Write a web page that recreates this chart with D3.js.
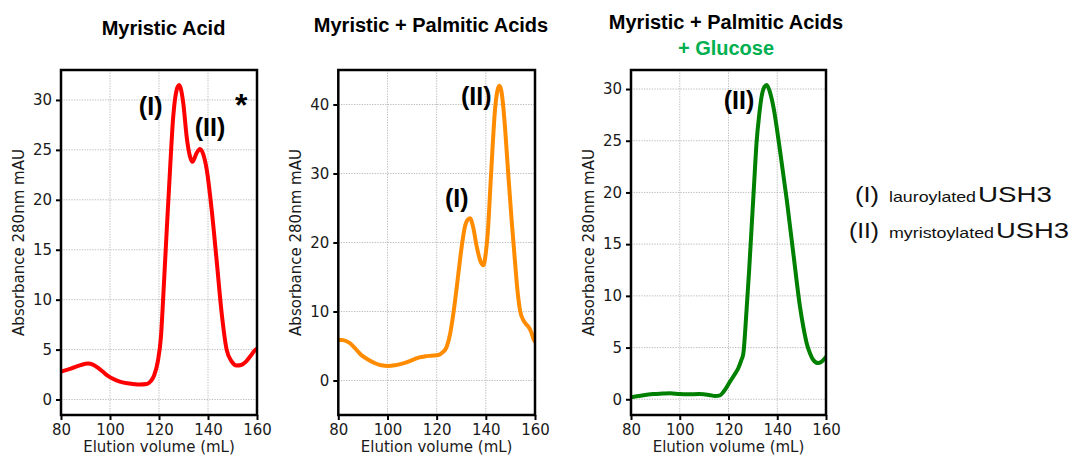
<!DOCTYPE html>
<html>
<head>
<meta charset="utf-8">
<script src="https://cdn.jsdelivr.net/npm/d3@7"></script>
<style>
  html, body { margin: 0; padding: 0; background: #fff; }
  svg { display: block; }
</style>
</head>
<body>
<svg id="chart" width="1073" height="457"></svg>
<script>
// Size-exclusion traces (A280, mAU) against elution volume (mL)
const xTicks = [80, 100, 120, 140, 160];

const myristicVolume = [80, 84, 88, 91, 93, 95, 97, 99, 101, 104, 108, 112, 115, 116.5, 118, 119.5, 120.8, 121.8, 123.1, 124.5, 125.8, 127.2, 128.2, 129.9, 131.3, 132.7, 133.6, 135.4, 136.7, 138, 139.5, 141.5, 143.5, 145.6, 147.6, 149.7, 151.7, 153.5, 155.5, 157.5, 159, 160];
const myristicAbs = [2.8, 3.1, 3.45, 3.6, 3.5, 3.2, 2.8, 2.4, 2.1, 1.8, 1.6, 1.5, 1.55, 1.8, 2.4, 3.8, 6.3, 10.6, 16.7, 23, 28.3, 31, 31.5, 29.7, 26.3, 24.3, 23.8, 24.7, 25.1, 24.6, 23, 19, 14, 8.6, 5.0, 3.8, 3.4, 3.45, 3.8, 4.4, 4.9, 5.1];
const myristicYTicks = [0, 5, 10, 15, 20, 25, 30];

const mixVolume = [80, 82, 84.8, 87, 89, 92.2, 95, 97.5, 100.3, 103, 106, 108.5, 111, 113, 115.3, 118, 120.7, 122.5, 124.1, 125.5, 126.8, 128.2, 129.5, 130.5, 131.5, 132.6, 133.6, 134.8, 136.3, 137.7, 139, 140, 141, 141.7, 142.7, 143.7, 144.6, 145.5, 146.3, 147, 147.8, 149.1, 150.5, 151.8, 153, 154, 155.2, 156.3, 157.3, 158.5, 159.3, 160];
const mixAbs = [5.9, 5.85, 5.4, 4.6, 3.8, 3.0, 2.5, 2.2, 2.1, 2.2, 2.45, 2.75, 3.1, 3.35, 3.5, 3.6, 3.7, 4.1, 4.9, 6.8, 9.7, 13.6, 17.5, 20.2, 22.3, 23.3, 23.5, 22.3, 19.4, 17.4, 16.7, 18.5, 22.5, 27.1, 33.5, 39.1, 41.8, 42.7, 42, 40, 36.7, 30, 23.2, 17.5, 12.6, 10, 8.8, 8.2, 7.8, 7.0, 6.1, 5.6];
const mixYTicks = [0, 10, 20, 30, 40];

const glucoseVolume = [80, 84, 89, 93, 96, 100, 103, 108, 112, 114.5, 116.5, 118, 120.6, 122.5, 124, 125.3, 126.1, 127.4, 128.5, 129.5, 130.5, 131.5, 132.6, 133.6, 134.7, 135.7, 137, 138.4, 141.1, 143.9, 146.6, 149.3, 150.7, 152.1, 153.5, 154.8, 156.8, 158, 160];
const glucoseAbs = [0.2, 0.35, 0.5, 0.55, 0.58, 0.5, 0.48, 0.5, 0.42, 0.32, 0.38, 0.74, 1.7, 2.4, 3.0, 3.8, 4.45, 8.6, 12.6, 16.7, 20.8, 24.8, 27.5, 29.3, 30.2, 30.4, 29.7, 28.3, 24.1, 19.3, 14.1, 9.0, 7.0, 5.4, 4.4, 3.8, 3.5, 3.6, 4.1];
const glucoseYTicks = [0, 5, 10, 15, 20, 25, 30];

const panels = [
  {
    id: "myr", vol: myristicVolume, abs: myristicAbs, yTicks: myristicYTicks,
    yDomain: [-1.55, 33.0], color: "#ff0000", left: 61, right: 257,
    title: [{ text: "Myristic Acid", x: 163.5, y: 35, fill: "#000" }],
    notes: [
      { text: "(I)", x: 116.6, y: 28.5, size: 25 },
      { text: "(II)", x: 140.8, y: 26.35, size: 25 },
      { text: "*", x: 153.6, y: 28.4, size: 32 }
    ]
  },
  {
    id: "mix", vol: mixVolume, abs: mixAbs, yTicks: mixYTicks,
    yDomain: [-5, 45], color: "#ff8c00", left: 338.3, right: 535,
    title: [{ text: "Myristic + Palmitic Acids", x: 431, y: 32, fill: "#000" }],
    notes: [
      { text: "(II)", x: 136.1, y: 39.86, size: 25 },
      { text: "(I)", x: 128.15, y: 25.2, size: 25 }
    ]
  },
  {
    id: "glc", vol: glucoseVolume, abs: glucoseAbs, yTicks: glucoseYTicks,
    yDomain: [-1.52, 31.84], color: "#008000", left: 631, right: 826,
    title: [
      { text: "Myristic + Palmitic Acids", x: 726, y: 29, fill: "#000" },
      { text: "+ Glucose", x: 726, y: 55, fill: "#00b050" }
    ],
    notes: [
      { text: "(II)", x: 124.3, y: 28.1, size: 25 }
    ]
  }
];

const TOP = 70, BOTTOM = 415;
const tickFont = "'DejaVu Sans', sans-serif";
const boldFont = "'Liberation Sans', Arial, sans-serif";

const svg = d3.select("#chart");

panels.forEach(p => {
  const x = d3.scaleLinear().domain([80, 160]).range([p.left, p.right]);
  const y = d3.scaleLinear().domain(p.yDomain).range([BOTTOM, TOP]);
  const g = svg.append("g");

  g.append("clipPath").attr("id", "clip-" + p.id)
    .append("rect")
    .attr("x", p.left).attr("y", TOP)
    .attr("width", p.right - p.left).attr("height", BOTTOM - TOP);

  // dotted grid
  const grid = g.append("g").attr("stroke", "#b4b4b4").attr("stroke-width", 0.9)
    .attr("stroke-dasharray", "1.3,1.3");
  grid.selectAll("line.v").data(xTicks).join("line").attr("class", "v")
    .attr("x1", d => x(d)).attr("x2", d => x(d)).attr("y1", TOP).attr("y2", BOTTOM);
  grid.selectAll("line.h").data(p.yTicks).join("line").attr("class", "h")
    .attr("x1", p.left).attr("x2", p.right).attr("y1", d => y(d)).attr("y2", d => y(d));

  // trace
  const pts = p.vol.map((v, i) => [v, p.abs[i]]);
  const line = d3.line().x(d => x(d[0])).y(d => y(d[1])).curve(d3.curveMonotoneX);
  g.append("path").datum(pts)
    .attr("clip-path", "url(#clip-" + p.id + ")")
    .attr("d", line)
    .attr("fill", "none")
    .attr("stroke", p.color)
    .attr("stroke-width", 4)
    .attr("stroke-linejoin", "round")
    .attr("stroke-linecap", "round");

  // axes
  const xAxis = g.append("g").attr("transform", `translate(0,${BOTTOM})`)
    .call(d3.axisBottom(x).tickValues(xTicks).tickSize(5).tickPadding(4).tickFormat(d3.format("d")));
  const yAxis = g.append("g").attr("transform", `translate(${p.left},0)`)
    .call(d3.axisLeft(y).tickValues(p.yTicks).tickSize(5).tickPadding(4).tickFormat(d3.format("d")));
  [xAxis, yAxis].forEach(a => {
    a.select(".domain").remove();
    a.selectAll(".tick line").attr("stroke", "#000").attr("stroke-width", 2);
    a.selectAll(".tick text").attr("fill", "#1a1a1a")
      .style("font-family", tickFont).style("font-size", "15px");
  });

  // frame
  g.append("rect")
    .attr("x", p.left).attr("y", TOP)
    .attr("width", p.right - p.left).attr("height", BOTTOM - TOP)
    .attr("fill", "none").attr("stroke", "#000").attr("stroke-width", 2.5);

  // axis titles
  g.append("text")
    .attr("x", (p.left + p.right) / 2).attr("y", 452)
    .attr("text-anchor", "middle")
    .style("font-family", tickFont).style("font-size", "15px").attr("fill", "#1a1a1a")
    .text("Elution volume (mL)");
  g.append("text")
    .attr("transform", `translate(${p.left - 37},${(TOP + BOTTOM) / 2}) rotate(-90)`)
    .attr("text-anchor", "middle")
    .style("font-family", tickFont).style("font-size", "15px").attr("fill", "#1a1a1a")
    .text("Absorbance 280nm mAU");

  // panel titles
  p.title.forEach(t => {
    g.append("text").attr("x", t.x).attr("y", t.y).attr("text-anchor", "middle")
      .style("font-family", boldFont).style("font-weight", "bold").style("font-size", "20px")
      .attr("fill", t.fill).text(t.text);
  });

  // peak labels
  p.notes.forEach(n => {
    g.append("text").attr("x", x(n.x)).attr("y", y(n.y)).attr("text-anchor", "middle")
      .style("font-family", boldFont).style("font-weight", "bold").style("font-size", n.size + "px")
      .attr("fill", "#000").text(n.text);
  });
});

// key for the peak numerals
const legendFont = "'Liberation Sans', Arial, sans-serif";
const legendRows = [
  { y: 202, parts: [
    { text: "(I)", x: 855, w: 24, size: 22 },
    { text: "lauroylated", x: 889, w: 87, size: 15 },
    { text: "USH3", x: 978, w: 74, size: 22 }
  ]},
  { y: 238, parts: [
    { text: "(II)", x: 849, w: 30, size: 22 },
    { text: "myristoylated", x: 889, w: 105, size: 15 },
    { text: "USH3", x: 996, w: 73, size: 22 }
  ]}
];
const legend = svg.append("g");
legendRows.forEach(r => {
  r.parts.forEach(pt => {
    legend.append("text")
      .attr("x", pt.x).attr("y", r.y)
      .attr("textLength", pt.w).attr("lengthAdjust", "spacingAndGlyphs")
      .style("font-family", legendFont).style("font-size", pt.size + "px")
      .attr("fill", "#111").text(pt.text);
  });
});
</script>
</body>
</html>
